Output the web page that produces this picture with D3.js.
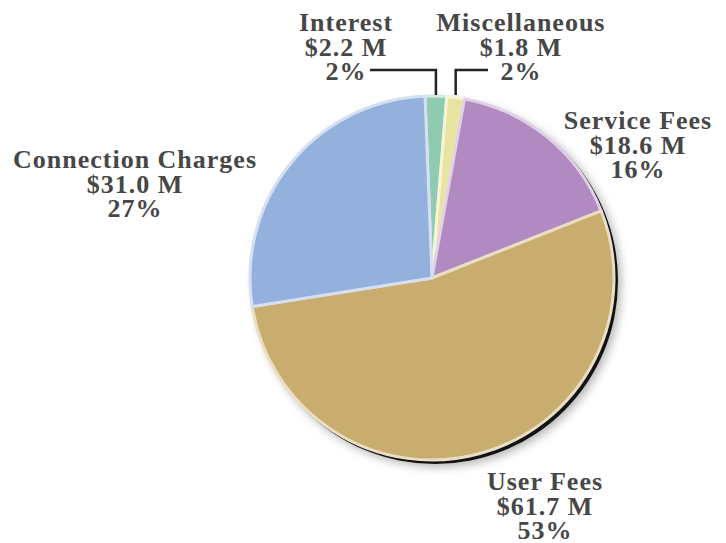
<!DOCTYPE html>
<html>
<head>
<meta charset="utf-8">
<script src="https://cdn.jsdelivr.net/npm/d3@7/dist/d3.min.js"></script>
<style>
  html, body { margin: 0; padding: 0; background: #fff; }
  svg { display: block; }
  .lbl { font-family: "Liberation Serif", "Times New Roman", serif; font-weight: bold; font-size: 26px; fill: #474747; letter-spacing: 1px; }
</style>
</head>
<body>
<svg id="chart" width="726" height="543"></svg>
<script>
// Revenue sources, in millions of dollars, clockwise from the top
const categories = ["Interest", "Miscellaneous", "Service Fees", "User Fees", "Connection Charges"];
const amounts = [2.2, 1.8, 18.6, 61.7, 31.0];
const percentLabels = ["2%", "2%", "16%", "53%", "27%"];
const colors = ["#8ecbb1", "#e9e3a1", "#b28ac2", "#c9ad6e", "#94b0dc"];

const width = 726, height = 543;
const cx = 432, cy = 278, radius = 182;
const startOffset = -2.2 * Math.PI / 180;

const svg = d3.select("#chart");
const defs = svg.append("defs");
defs.append("filter").attr("id", "soft")
  .attr("x", "-20%").attr("y", "-20%").attr("width", "140%").attr("height", "140%")
  .append("feGaussianBlur").attr("stdDeviation", 5);

const pie = d3.pie().sort(null).value(d => d)
  .startAngle(startOffset).endAngle(startOffset + 2 * Math.PI);
const arcs = pie(amounts);
const arc = d3.arc().innerRadius(0).outerRadius(radius);

const g = svg.append("g").attr("transform", `translate(${cx},${cy})`);

// drop shadow toward the lower right
g.append("circle").attr("cx", 6).attr("cy", 6).attr("r", radius + 1)
  .attr("fill", "#777").attr("opacity", 0.55).attr("filter", "url(#soft)");
g.append("circle").attr("cx", 3).attr("cy", 3).attr("r", radius + 1)
  .attr("fill", "#111");

g.selectAll("path.slice").data(arcs).join("path")
  .attr("class", "slice")
  .attr("d", arc)
  .attr("fill", (d, i) => colors[i])
  .attr("stroke", (d, i) => d3.interpolateRgb(colors[i], "#ffffff")(0.6))
  .attr("stroke-width", 3)
  .attr("stroke-linejoin", "round");

// label blocks: name, amount, share
const labelPos = [
  { x: 346, y: 31 },
  { x: 521, y: 31 },
  { x: 638, y: 129 },
  { x: 545, y: 490 },
  { x: 135, y: 168 }
];
const lineGap = 24.5;

categories.forEach((name, i) => {
  const t = svg.append("text").attr("class", "lbl")
    .attr("text-anchor", "middle")
    .attr("x", labelPos[i].x).attr("y", labelPos[i].y);
  const lines = [name, "$" + amounts[i].toFixed(1) + " M", percentLabels[i]];
  lines.forEach((s, k) => {
    t.append("tspan").attr("x", labelPos[i].x).attr("dy", k === 0 ? 0 : lineGap).text(s);
  });
});

// leader lines for the two thin slices
const leaderY = 70;
function sliceTopX(d) {
  const a = (d.startAngle + d.endAngle) / 2;
  return cx + radius * Math.sin(a);
}
const topY = cy - radius - 1;
const interestX = sliceTopX(arcs[0]);
const miscX = sliceTopX(arcs[1]);
const leader = d3.line();
svg.append("path")
  .attr("d", leader([[370, leaderY], [interestX, leaderY], [interestX, topY]]))
  .attr("fill", "none").attr("stroke", "#222").attr("stroke-width", 2.5);
svg.append("path")
  .attr("d", leader([[miscX, topY], [miscX, leaderY], [488, leaderY]]))
  .attr("fill", "none").attr("stroke", "#222").attr("stroke-width", 2.5);
</script>
</body>
</html>
